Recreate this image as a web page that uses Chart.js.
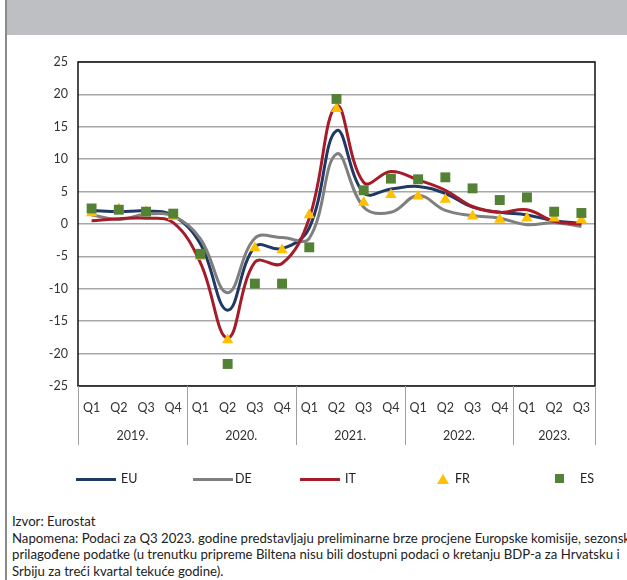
<!DOCTYPE html>
<html>
<head>
<meta charset="utf-8">
<script src="https://cdn.jsdelivr.net/npm/chart.js@4.4.0/dist/chart.umd.min.js"></script>
<style>
  body { margin: 0; width: 627px; height: 580px; position: relative; overflow: hidden; background: #fff; font-family: Lato, "Open Sans", sans-serif; }
  #band { position: absolute; left: 6px; top: 0; width: 621px; height: 35px; background: #bebfc2; }
  #edge { position: absolute; left: 5px; top: 0; width: 1.5px; height: 580px; background: #8a8a8a; }
  #wrap { position: absolute; left: 0; top: 0; width: 627px; height: 500px; }
  .leg { position: absolute; top: 471px; font-size: 12.5px; color: #222; line-height: 16px; }
  .ln { position: absolute; top: 478px; height: 3px; width: 40px; }
  #note { position: absolute; left: 12px; top: 513px; font-size: 13.2px; line-height: 16.5px; color: #222; white-space: nowrap; }
</style>
</head>
<body>
<div id="band"></div>
<div id="edge"></div>
<div id="wrap"><canvas id="gdpChart" width="627" height="500"></canvas></div>

<div class="ln" style="left:76px;background:#203864"></div><div class="leg" style="left:121px">EU</div>
<div class="ln" style="left:193px;background:#7f7f7f"></div><div class="leg" style="left:235px">DE</div>
<div class="ln" style="left:300px;background:#a61b29"></div><div class="leg" style="left:345px">IT</div>
<svg style="position:absolute;left:437px;top:474px" width="12" height="11"><polygon points="6,0 12,10 0,10" fill="#ffc000"/></svg><div class="leg" style="left:455px">FR</div>
<div style="position:absolute;left:555px;top:474px;width:9px;height:9px;background:#548235"></div><div class="leg" style="left:580px">ES</div>

<div id="note">Izvor: Eurostat<br>Napomena: Podaci za Q3 2023. godine predstavljaju preliminarne brze procjene Europske komisije, sezonski<br>prilagođene podatke (u trenutku pripreme Biltena nisu bili dostupni podaci o kretanju BDP-a za Hrvatsku i<br>Srbiju za treći kvartal tekuće godine).</div>

<script>
// quarters and years on the x axis
const quarters = ['Q1','Q2','Q3','Q4','Q1','Q2','Q3','Q4','Q1','Q2','Q3','Q4','Q1','Q2','Q3','Q4','Q1','Q2','Q3'];
const years = ['2019.', '2020.', '2021.', '2022.', '2023.'];
const yearStarts = [0, 4, 8, 12, 16, 19];

// y/y real GDP growth, %
const euData = [2.1, 1.9, 2.0, 1.3, -3.1, -13.3, -3.5, -3.8, -0.6, 14.4, 4.8, 5.4, 5.8, 4.7, 2.6, 1.8, 1.4, 0.5, 0.1];
const deData = [1.4, 0.7, 1.5, 1.2, -2.3, -10.6, -2.2, -2.1, -2.2, 10.8, 2.6, 1.8, 4.4, 2.1, 1.3, 0.9, -0.1, 0.2, -0.4];
const itData = [0.5, 0.8, 0.9, 0.2, -6.0, -17.6, -5.9, -6.1, 0.9, 18.2, 6.4, 8.1, 6.8, 5.2, 2.7, 1.8, 2.2, 0.4, 0.0];
const frData = [1.7, 2.3, 1.9, 1.1, -5.0, -17.9, -3.7, -4.0, 1.4, 17.8, 3.3, 4.5, 4.3, 3.8, 1.2, 0.7, 0.9, 0.9, 0.6];
const esData = [2.4, 2.2, 1.9, 1.6, -4.6, -21.6, -9.2, -9.2, -3.6, 19.3, 5.2, 7.0, 6.9, 7.2, 5.5, 3.7, 4.1, 1.9, 1.7];

const textColor = '#333';

// frame around plot, year separators and year labels under the quarters
const yearAxisPlugin = {
    id: 'yearAxis',
    beforeDatasetsDraw(chart) {
        const a = chart.chartArea;
        const ctx = chart.ctx;
        ctx.save();
        ctx.strokeStyle = '#111';
        ctx.lineWidth = 1.5;
        ctx.strokeRect(a.left, a.top, a.right - a.left, a.bottom - a.top);
        ctx.restore();
    },
    afterDraw(chart) {
        const ctx = chart.ctx;
        const x = chart.scales.x;
        const a = chart.chartArea;
        const half = (x.getPixelForValue(1) - x.getPixelForValue(0)) / 2;
        const edge = i => i < quarters.length ? x.getPixelForValue(i) - half : x.getPixelForValue(quarters.length - 1) + half;
        ctx.save();
        ctx.strokeStyle = '#a0a0a0';
        ctx.lineWidth = 1;
        yearStarts.forEach(i => {
            const px = Math.round(edge(i)) + 0.5;
            ctx.beginPath();
            ctx.moveTo(px, a.bottom);
            ctx.lineTo(px, 445);
            ctx.stroke();
        });
        ctx.fillStyle = textColor;
        ctx.font = '12.5px Lato, "Open Sans", sans-serif';
        ctx.textAlign = 'center';
        ctx.textBaseline = 'middle';
        years.forEach((y, k) => {
            const cx = (edge(yearStarts[k]) + edge(yearStarts[k + 1])) / 2;
            ctx.fillText(y, cx, 436);
        });
        ctx.restore();
    }
};

function createGdpChart() {
    const ctx = document.getElementById('gdpChart').getContext('2d');

    new Chart(ctx, {
        type: 'line',
        data: {
            labels: quarters,
            datasets: [
                { label: 'EU', data: euData, borderColor: '#203864', borderWidth: 3, pointRadius: 0, tension: 0.4, order: 4 },
                { label: 'DE', data: deData, borderColor: '#7f7f7f', borderWidth: 3, pointRadius: 0, tension: 0.4, order: 3 },
                { label: 'IT', data: itData, borderColor: '#a61b29', borderWidth: 3, pointRadius: 0, tension: 0.4, order: 2 },
                { label: 'FR', data: frData, showLine: false, pointStyle: 'triangle', pointRadius: 6.5,
                  backgroundColor: '#ffc000', borderColor: '#ffc000', borderWidth: 0, order: 1 },
                { label: 'ES', data: esData, showLine: false, pointStyle: 'rect', pointRadius: 7,
                  backgroundColor: '#548235', borderColor: '#548235', borderWidth: 0, order: 0 }
            ]
        },
        options: {
            responsive: false,
            animation: false,
            layout: { padding: { top: 62, right: 32, left: 0, bottom: 0 } },
            plugins: { legend: { display: false }, tooltip: { enabled: false } },
            scales: {
                x: {
                    offset: true,
                    grid: { display: false },
                    border: { display: false },
                    ticks: { color: textColor, padding: 6, maxRotation: 0, autoSkip: false,
                             font: { family: 'Lato', size: 12.5 } },
                    afterFit: s => { s.height = 114; }
                },
                y: {
                    min: -25,
                    max: 25,
                    border: { display: false },
                    grid: { color: '#a8a8a8', lineWidth: 1.5, drawTicks: false },
                    ticks: { stepSize: 5, color: textColor, padding: 10,
                             font: { family: 'Lato', size: 12.5 } },
                    afterFit: s => { s.width = 78; }
                }
            }
        },
        plugins: [yearAxisPlugin]
    });
}

document.addEventListener('DOMContentLoaded', createGdpChart);
</script>
</body>
</html>
